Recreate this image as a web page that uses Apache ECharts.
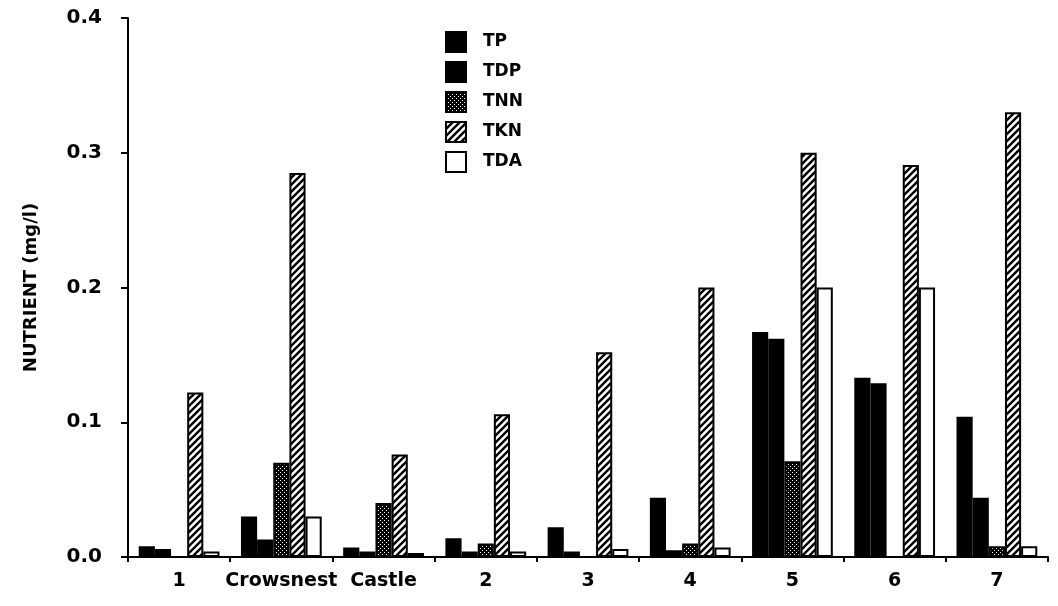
<!DOCTYPE html>
<html>
<head>
<meta charset="utf-8">
<script src="https://cdn.jsdelivr.net/npm/echarts@6/dist/echarts.min.js"></script>
<style>
  html, body { margin: 0; padding: 0; background: #fff; }
  #chart { width: 1058px; height: 606px; }
</style>
</head>
<body>
<div id="chart"></div>
<script>
// Sampling sites along the river
const categories = ['1', 'Crowsnest', 'Castle', '2', '3', '4', '5', '6', '7'];

// Nutrient concentrations (mg/l)
const TP  = [0.008, 0.030, 0.007, 0.014, 0.022, 0.044, 0.167, 0.133, 0.104];
const TDP = [0.006, 0.013, 0.004, 0.004, 0.004, 0.005, 0.162, 0.129, 0.044];
const TNN = [0.000, 0.070, 0.040, 0.010, 0.000, 0.010, 0.071, 0.000, 0.008];
const TKN = [0.122, 0.285, 0.076, 0.106, 0.152, 0.200, 0.300, 0.291, 0.330];
const TDA = [0.004, 0.030, 0.003, 0.004, 0.006, 0.007, 0.200, 0.200, 0.008];

const yTicks = [0, 0.1, 0.2, 0.3, 0.4];

// Fill patterns
function hatchPattern() {
  const s = 7;
  const c = document.createElement('canvas');
  c.width = s; c.height = s;
  const g = c.getContext('2d');
  g.fillStyle = '#fff';
  g.fillRect(0, 0, s, s);
  g.strokeStyle = '#000';
  g.lineWidth = 2.4;
  g.beginPath();
  g.moveTo(0, s); g.lineTo(s, 0);
  g.moveTo(-2, 2); g.lineTo(2, -2);
  g.moveTo(s - 2, s + 2); g.lineTo(s + 2, s - 2);
  g.stroke();
  return c;
}
function stipplePattern() {
  const c = document.createElement('canvas');
  c.width = 4; c.height = 4;
  const g = c.getContext('2d');
  g.fillStyle = '#000';
  g.fillRect(0, 0, 4, 4);
  g.fillStyle = '#fff';
  g.fillRect(0, 0, 1, 1);
  g.fillRect(2, 2, 1, 1);
  return c;
}

const fills = {
  TP: '#000',
  TDP: '#000',
  TNN: { image: stipplePattern(), repeat: 'repeat' },
  TKN: { image: hatchPattern(), repeat: 'repeat' },
  TDA: '#fff'
};

const seriesData = { TP, TDP, TNN, TKN, TDA };
const names = ['TP', 'TDP', 'TNN', 'TKN', 'TDA'];

const font = 'DejaVu Sans';

const chart = echarts.init(document.getElementById('chart'), null, { renderer: 'canvas' });
chart.setOption({
  animation: false,
  backgroundColor: '#fff',
  grid: { left: 128, right: 10, top: 18, bottom: 49 },
  legend: {
    data: names.map(n => ({ name: n, icon: 'rect' })),
    orient: 'vertical',
    left: 440,
    top: 26,
    itemWidth: 20,
    itemHeight: 20,
    itemGap: 8,
    textStyle: { fontFamily: font, fontWeight: 'bold', fontSize: 17, color: '#000', padding: [0, 0, 0, 12] }
  },
  xAxis: {
    type: 'category',
    data: categories,
    boundaryGap: true,
    axisLine: { lineStyle: { color: '#000', width: 2 } },
    axisTick: { show: true, length: 5, lineStyle: { color: '#000', width: 2 } },
    axisLabel: { color: '#000', fontFamily: font, fontWeight: 'bold', fontSize: 19, margin: 15, interval: 0 }
  },
  yAxis: {
    type: 'value',
    min: 0,
    max: 0.4,
    interval: 0.1,
    name: 'NUTRIENT (mg/l)',
    nameLocation: 'middle',
    nameRotate: 90,
    nameGap: 88,
    nameTextStyle: { color: '#000', fontFamily: font, fontWeight: 'bold', fontSize: 18 },
    splitLine: { show: false },
    axisLine: { show: true, lineStyle: { color: '#000', width: 2 } },
    axisTick: { show: true, length: 7, lineStyle: { color: '#000', width: 2 } },
    axisLabel: {
      color: '#000', fontFamily: font, fontWeight: 'bold', fontSize: 20, margin: 26,
      formatter: v => yTicks.includes(Math.round(v * 10) / 10) ? v.toFixed(1) : ''
    }
  },
  series: names.map(n => ({
    name: n,
    type: 'bar',
    data: seriesData[n],
    barGap: '0%',
    barCategoryGap: '21%',
    itemStyle: { color: fills[n], borderColor: '#000', borderWidth: 2 }
  }))
});
</script>
</body>
</html>
